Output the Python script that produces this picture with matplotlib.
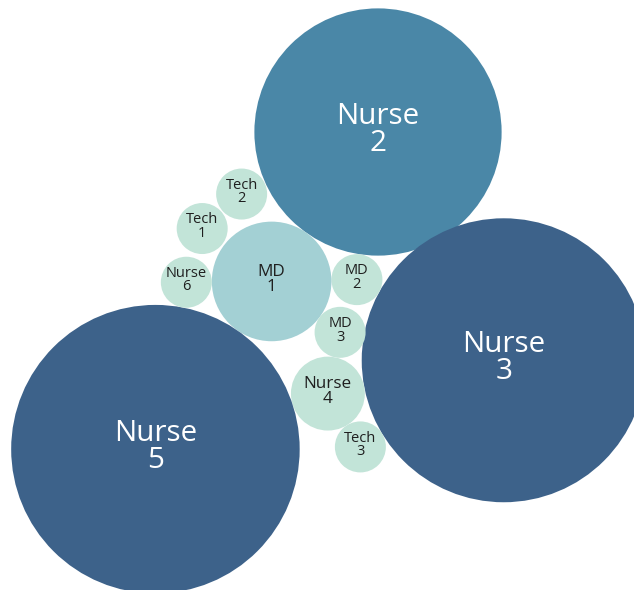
import numpy as np
import matplotlib.pyplot as plt
from matplotlib.patches import Circle

# share of each role (%); bubble area is proportional to the value
labels = ['Nurse\n2', 'Nurse\n3', 'MD\n2', 'MD\n1', 'MD\n3', 'Nurse\n4',
          'Tech\n3', 'Nurse\n5', 'Nurse\n6', 'Tech\n1', 'Tech\n2']
values = [23.5, 31, 1, 5.5, 1, 2.1, 1, 32, 1, 1, 1]

# packing: each bubble sits against two bubbles placed before it,
# with a little extra space (px) to each of them
touches = [None, None, (0, 1), (0, 2), (3, 1), (4, 1), (5, 1),
           (3, 5), (3, 7), (3, 8), (0, 9)]
pads = [None, None, (0, 0), (0, 0), (0, -1.5), (0, 0), (0, 0),
        (0, 0), (0, 0), (2, 5), (0.7, 1.4)]

k = 25.5          # px per sqrt(value)
radii = k * np.sqrt(values)


def colour(v):
    if v >= 28:
        return '#3D628A'
    if v >= 15:
        return '#4A87A7'
    if v >= 4:
        return '#A3D0D4'
    return '#C2E4D8'


def tangent_to(a, ra, b, rb, r, pad):
    da, db = ra + r + pad[0], rb + r + pad[1]
    d = np.linalg.norm(b - a)
    u = (b - a) / d
    x = (da**2 - db**2 + d**2) / (2 * d)
    h = np.sqrt(max(da**2 - x**2, 0))
    return a + x * u + h * np.array([-u[1], u[0]])


# first two bubbles (slightly overlapping), the rest follow from touches
centres = [np.array([0.0, 0.0])]
ang = np.arctan2(227, 125)
centres.append(centres[0] + (radii[0] + radii[1] - 5) * np.array([np.cos(ang), np.sin(ang)]))
for i in range(2, len(values)):
    a, b = touches[i]
    centres.append(tangent_to(centres[a], radii[a], centres[b], radii[b], radii[i], pads[i]))

fig = plt.figure(figsize=(6.34, 5.90), dpi=100)
ax = fig.add_axes([0, 0, 1, 1])
ax.set_xlim(-378, 634 - 378)
ax.set_ylim(590 - 132, -132)
ax.set_aspect('equal')
ax.axis('off')

for i, (lab, v) in enumerate(zip(labels, values)):
    c = centres[i]
    ax.add_patch(Circle(c, radii[i], color=colour(v), lw=0))
    if v >= 15:
        fs, ls, tc = 21.3, 0.92, 'white'
    elif v >= 2:
        fs, ls, tc = 12.3, 0.85, '#1f1f1f'
    else:
        fs, ls, tc = 10.5, 0.85, '#1f1f1f'
    ax.text(c[0], c[1] - 2, lab, ha='center', va='center', fontsize=fs,
            linespacing=ls, color=tc, family='Open Sans')

plt.savefig('out.png', dpi=100)
